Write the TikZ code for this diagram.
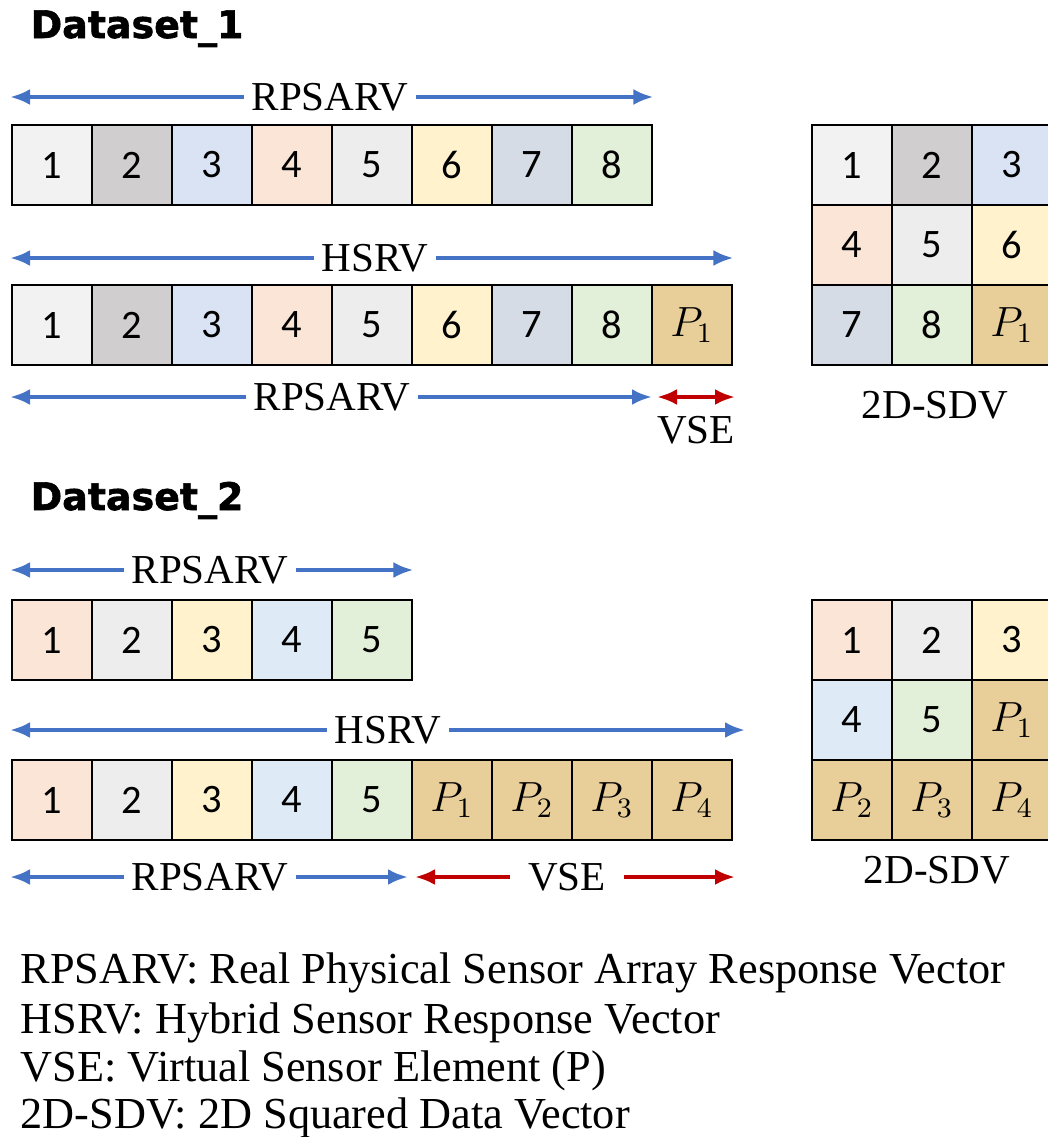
\documentclass[tikz,border=0pt]{standalone}
\usepackage{fontspec}
\setmainfont{Liberation Serif}
\newfontfamily\cellfont{Carlito}
\newfontfamily\headfont{DejaVu Sans}[BoldFeatures={FakeBold=1.6}]
\usepackage{tikz}
\usetikzlibrary{arrows.meta}

\definecolor{g1}{HTML}{F2F2F2}
\definecolor{g2}{HTML}{D0CECE}
\definecolor{bl}{HTML}{DAE3F3}
\definecolor{bl2}{HTML}{DEEBF7}
\definecolor{pe}{HTML}{FBE5D6}
\definecolor{g5}{HTML}{EDEDED}
\definecolor{ye}{HTML}{FFF2CC}
\definecolor{sl}{HTML}{D6DCE5}
\definecolor{gr}{HTML}{E2F0D9}
\definecolor{pap}{HTML}{E8CF9A}
\definecolor{arrblue}{HTML}{4472C4}
\definecolor{arrred}{HTML}{C00000}

\begin{document}
\begin{tikzpicture}[>={Latex[length=2mm,width=1.6mm]},
    cell/.style={draw, line width=0.8pt, minimum size=0.8cm, inner sep=0pt,
        font=\cellfont\fontsize{11.5}{12}\selectfont},
    lbl/.style={font=\fontsize{11.7}{14}\selectfont, inner sep=2pt},
    head/.style={font=\headfont\bfseries\fontsize{10.8}{12}\selectfont, anchor=base west, inner sep=0pt},
    note/.style={font=\fontsize{12.6}{15}\selectfont, anchor=base west, inner sep=0pt},
    barrow/.style={draw=arrblue, line width=1.1pt},
    rarrow/.style={draw=arrred, line width=1.1pt}]
    \useasboundingbox (0,0) rectangle (10.47,-11.37);

    % Dataset_1
    \node[head] (h1) at (0.30,-0.38) {Dataset\_1};

    \foreach \c [count=\i] in {g1,g2,bl,pe,g5,ye,sl,gr}
        \node[cell,fill=\c] (a\i) at ({0.52+0.8*(\i-1)},-1.65) {\i};
    \foreach \c [count=\i] in {g1,g2,bl,pe,g5,ye,sl,gr}
        \node[cell,fill=\c] (b\i) at ({0.52+0.8*(\i-1)},-3.25) {\i};
    \node[cell,fill=pap] (b9) at (6.92,-3.25) {$P_1$};

    \foreach \c/\t [count=\i from 0] in {g1/1,g2/2,bl/3,pe/4,g5/5,ye/6,sl/7,gr/8,pap/$P_1$}
        \node[cell,fill=\c] (s\i) at ({8.52+0.8*mod(\i,3)},{-1.65-0.8*int(\i/3)}) {\t};
    \node[lbl] (sdv1) at (9.35,-4.05) {2D-SDV};

    \coordinate (ra0) at (0.10,-0.97);
    \node[lbl] (ra) at (3.30,-0.97) {RPSARV};
    \draw[barrow,<-] (ra0) -- (ra);
    \draw[barrow,->] (ra) -- (a8.east |- ra);

    \coordinate (ha0) at (0.10,-2.58);
    \node[lbl] (ha) at (3.75,-2.58) {HSRV};
    \draw[barrow,<-] (ha0) -- (ha);
    \draw[barrow,->] (ha) -- (b9.east |- ha);

    \coordinate (rb0) at (0.10,-3.97);
    \coordinate (rb1) at (6.52,-3.97);
    \node[lbl] (rb) at (3.32,-3.97) {RPSARV};
    \draw[barrow,<-] (rb0) -- (rb);
    \draw[barrow,->] (rb) -- (rb1);
    \coordinate (va0) at (6.57,-3.97);
    \coordinate (va1) at (7.35,-3.97);
    \draw[rarrow,<->] (va0) -- (va1);
    \node[lbl] (va) at (6.96,-4.30) {VSE};

    % Dataset_2
    \node[head] (h2) at (0.30,-5.10) {Dataset\_2};

    \foreach \c [count=\i] in {pe,g5,ye,bl2,gr}
        \node[cell,fill=\c] (c\i) at ({0.52+0.8*(\i-1)},-6.40) {\i};
    \foreach \c/\t [count=\i] in {pe/1,g5/2,ye/3,bl2/4,gr/5,pap/$P_1$,pap/$P_2$,pap/$P_3$,pap/$P_4$}
        \node[cell,fill=\c] (d\i) at ({0.52+0.8*(\i-1)},-8.00) {\t};

    \foreach \c/\t [count=\i from 0] in {pe/1,g5/2,ye/3,bl2/4,gr/5,pap/$P_1$,pap/$P_2$,pap/$P_3$,pap/$P_4$}
        \node[cell,fill=\c] (q\i) at ({8.52+0.8*mod(\i,3)},{-6.40-0.8*int(\i/3)}) {\t};
    \node[lbl] (sdv2) at (9.37,-8.70) {2D-SDV};

    \coordinate (rc0) at (0.10,-5.70);
    \node[lbl] (rc) at (2.10,-5.70) {RPSARV};
    \draw[barrow,<-] (rc0) -- (rc);
    \draw[barrow,->] (rc) -- (c5.east |- rc);

    \coordinate (hc0) at (0.10,-7.30);
    \coordinate (hc1) at (7.45,-7.30);
    \node[lbl] (hc) at (3.88,-7.30) {HSRV};
    \draw[barrow,<-] (hc0) -- (hc);
    \draw[barrow,->] (hc) -- (hc1);

    \coordinate (rd0) at (0.10,-8.77);
    \coordinate (rd1) at (4.08,-8.77);
    \node[lbl] (rd) at (2.10,-8.77) {RPSARV};
    \draw[barrow,<-] (rd0) -- (rd);
    \draw[barrow,->] (rd) -- (rd1);
    \coordinate (vd0) at (4.15,-8.77);
    \coordinate (vd1) at (7.35,-8.77);
    \node[lbl,inner xsep=5pt] (vd) at (5.67,-8.77) {VSE};
    \draw[rarrow,<-] (vd0) -- (vd);
    \draw[rarrow,->] (vd) -- (vd1);

    % legend
    \node[note] (n1) at (0.20,-9.83) {RPSARV: Real Physical Sensor Array Response Vector};
    \node[note] (n2) at (0.20,-10.33) {HSRV: Hybrid Sensor Response Vector};
    \node[note] (n3) at (0.20,-10.81) {VSE: Virtual Sensor Element (P)};
    \node[note] (n4) at (0.20,-11.28) {2D-SDV: 2D Squared Data Vector};
\end{tikzpicture}
\end{document}
